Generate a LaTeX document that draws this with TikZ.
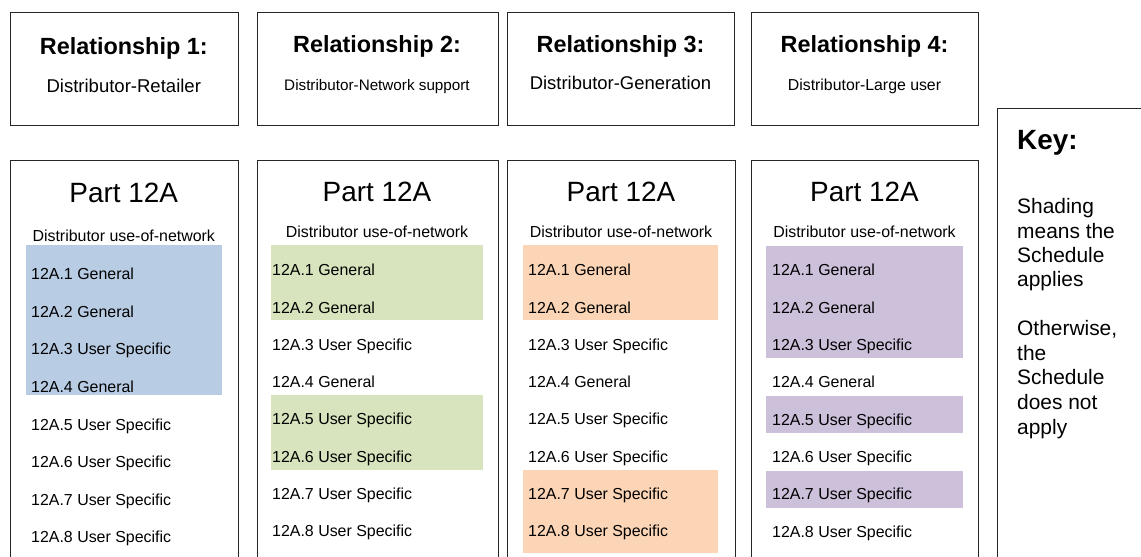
\documentclass[tikz,border=0pt]{standalone}
\usepackage{fontspec}
\setmainfont{Liberation Sans}
\definecolor{shblue}{HTML}{B8CCE4}
\definecolor{shgreen}{HTML}{D7E4BD}
\definecolor{shorange}{HTML}{FBD5B5}
\definecolor{shpurple}{HTML}{CCC0DA}
\definecolor{edge}{HTML}{262626}
\tikzset{
  box/.style={draw=edge, line width=1.1bp, fill=white, inner sep=0pt, anchor=north west},
  shade/.style={inner sep=0pt, anchor=north west, draw=none},
  head/.style={font=\bfseries\fontsize{23.5}{26}\selectfont, anchor=base, inner sep=0pt},
  sub/.style={anchor=base, inner sep=0pt},
  part/.style={font=\fontsize{28}{32}\selectfont, anchor=base, inner sep=0pt},
  use/.style={font=\fontsize{16}{19}\selectfont, anchor=base, inner sep=0pt},
  item/.style={font=\fontsize{16}{19}\selectfont, anchor=base west, inner sep=0pt},
  keyhead/.style={font=\bfseries\fontsize{28}{32}\selectfont, anchor=base west, inner sep=0pt},
  keytxt/.style={font=\fontsize{21}{24}\selectfont, anchor=base west, inner sep=0pt},
}
\begin{document}
\begin{tikzpicture}[x=1bp,y=-1bp]
\useasboundingbox (0,0) rectangle (1141,557);
\clip (0,0) rectangle (1141,557);
% top relationship boxes
\node[box, minimum width=227.5bp, minimum height=113bp] (rel1) at (10,12) {};
\node[box, minimum width=241bp, minimum height=113bp] (rel2) at (256.5,12) {};
\node[box, minimum width=227bp, minimum height=113bp] (rel3) at (507,12) {};
\node[box, minimum width=227bp, minimum height=113bp] (rel4) at (751,12) {};
% part boxes
\node[box, minimum width=227.5bp, minimum height=420bp] (p1) at (10,160) {};
\node[box, minimum width=241.5bp, minimum height=420bp] (p2) at (256.5,160) {};
\node[box, minimum width=228bp, minimum height=420bp] (p3) at (507,160) {};
\node[box, minimum width=227bp, minimum height=420bp] (p4) at (751,160) {};
% key box
\node[box, minimum width=170bp, minimum height=470bp] (key) at (997,108) {};
% shading
\node[shade, fill=shblue, minimum width=196bp, minimum height=150bp] (s1a) at (26,245) {};
\node[shade, fill=shgreen, minimum width=212bp, minimum height=75bp] (s2a) at (271,245) {};
\node[shade, fill=shgreen, minimum width=212bp, minimum height=75bp] (s2b) at (271,395) {};
\node[shade, fill=shorange, minimum width=195bp, minimum height=75bp] (s3a) at (523,245) {};
\node[shade, fill=shorange, minimum width=195bp, minimum height=83bp] (s3b) at (523,470) {};
\node[shade, fill=shpurple, minimum width=197bp, minimum height=112bp] (s4a) at (766,246) {};
\node[shade, fill=shpurple, minimum width=197bp, minimum height=37bp] (s4b) at (766,396) {};
\node[shade, fill=shpurple, minimum width=197bp, minimum height=37bp] (s4c) at (766,471) {};
% relationship texts
\node[head] (h1) at (123.75,55) {Relationship 1:};
\node[sub, font=\fontsize{18.6}{22}\selectfont] (d1) at (123.75,93) {Distributor-Retailer};
\node[head] (h2) at (377,53) {Relationship 2:};
\node[sub, font=\fontsize{15.3}{18}\selectfont] (d2) at (377,91) {Distributor-Network support};
\node[head] (h3) at (620.5,53) {Relationship 3:};
\node[sub, font=\fontsize{18.5}{22}\selectfont] (d3) at (620.5,90) {Distributor-Generation};
\node[head] (h4) at (864.5,53) {Relationship 4:};
\node[sub, font=\fontsize{15.9}{19}\selectfont] (d4) at (864.5,91) {Distributor-Large user};
% part headings
\node[part] (pt1) at (123.75,203) {Part 12A};
\node[use] (u1) at (123.75,242) {Distributor use-of-network};
\node[part] (pt2) at (377,202) {Part 12A};
\node[use] (u2) at (377,238) {Distributor use-of-network};
\node[part] (pt3) at (621,202) {Part 12A};
\node[use] (u3) at (621,238) {Distributor use-of-network};
\node[part] (pt4) at (864.5,202) {Part 12A};
\node[use] (u4) at (864.5,238) {Distributor use-of-network};
% items
\foreach \col/\x/\y/\d in {1/31/280/37.5, 2/272/276/37.2, 3/528/276/37.2, 4/772/276/37.3}{
  \foreach \i/\t in {1/General, 2/General, 3/User Specific, 4/General, 5/User Specific, 6/User Specific, 7/User Specific, 8/User Specific}{
    \node[item] (it\col-\i) at (\x,{\y+\d*(\i-1)}) {12A.\i\ \t};
  }
}
% key
\node[keyhead] (kh) at (1017,150) {Key:};
\node[keytxt] (k1) at (1017,214) {Shading};
\node[keytxt] (k2) at (1017,238.3) {means the};
\node[keytxt] (k3) at (1017,262.6) {Schedule};
\node[keytxt] (k4) at (1017,286.9) {applies};
\node[keytxt] (k5) at (1017,336) {Otherwise,};
\node[keytxt] (k6) at (1017,360.5) {the};
\node[keytxt] (k7) at (1017,385) {Schedule};
\node[keytxt] (k8) at (1017,409.5) {does not};
\node[keytxt] (k9) at (1017,434) {apply};
\end{tikzpicture}
\end{document}
